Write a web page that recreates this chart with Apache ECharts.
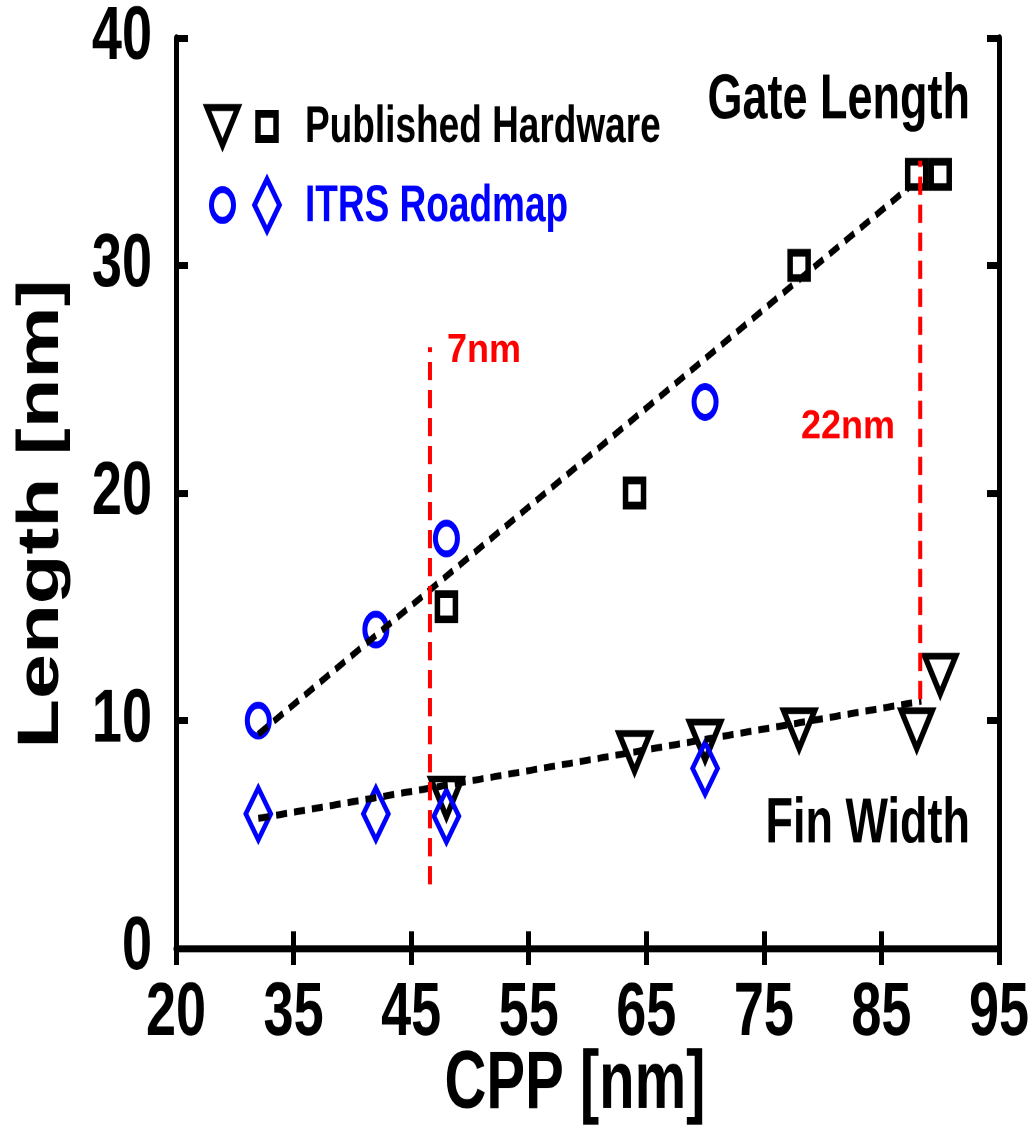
<!DOCTYPE html>
<html>
<head>
<meta charset="utf-8">
<script src="https://cdn.jsdelivr.net/npm/echarts@6/dist/echarts.min.js"></script>
<style>
html,body{margin:0;padding:0;background:#fff;width:1034px;height:1133px;overflow:hidden;}
#c{width:1034px;height:809px;transform:scaleY(1.40049);transform-origin:0 0;}
</style>
</head>
<body>
<div id="c"></div>
<script>
// ---- data ----
var xTickValues = [25, 35, 45, 55, 65, 75, 85, 95];
var xTickLabels = ['20', '35', '45', '55', '65', '75', '85', '95'];
var yTickValues = [0, 10, 20, 30, 40];
var yTickLabels = ['0', '10', '20', '30', '40'];

// Gate length
var gateHwX = [48, 64, 78, 88, 90];
var gateHwY = [15, 20, 30, 34, 34];
var gateItrsX = [32, 42, 48, 70];
var gateItrsY = [10, 14, 18, 24];
var gateFitX = [32, 87.5];
var gateFitY = [9.4, 33.5];

// Fin width
var finHwX = [48, 64, 70, 78, 88, 90];
var finHwY = [6.6, 8.6, 9.1, 9.6, 9.6, 12];
var finItrsX = [32, 42, 48, 70];
var finItrsY = [5.9, 5.9, 5.8, 7.9];
var finFitX = [32, 88.4];
var finFitY = [5.7, 10.85];

// node markers
var node7X = [46.6, 46.6];
var node7Y = [2.8, 26.4];
var node22X = [88.3, 88.3];
var node22Y = [10.95, 34.6];

function pairs(xs, ys) { return xs.map(function (x, i) { return [x, ys[i]]; }); }

var FONT = '"Liberation Sans", Arial, Helvetica, sans-serif';
var BLUE = '#0000ff';
var RED = '#ff0000';

var chart = echarts.init(document.getElementById('c'), null, {renderer: 'canvas', devicePixelRatio: 2});

var axisLineStyle = {show: true, lineStyle: {color: '#000', width: 5}};
var tickStyle = {show: true, inside: true, length: 12, lineStyle: {color: '#000', width: 5}};

var option = {
  animation: false,
  backgroundColor: '#fff',
  grid: {left: 176, right: 35, top: 25, bottom: 132},
  xAxis: [{
    type: 'value', min: 25, max: 95, interval: 10, position: 'bottom',
    axisLine: axisLineStyle, axisTick: tickStyle, splitLine: {show: false},
    axisLabel: {
      show: true, margin: 20, color: '#000', fontSize: 54, fontWeight: 'bold', fontFamily: FONT,
      showMinLabel: true, showMaxLabel: true,
      formatter: function (v) { var i = xTickValues.indexOf(Math.round(v)); return i >= 0 ? xTickLabels[i] : ''; }
    }
  }, {
    type: 'value', min: 25, max: 95, interval: 10, position: 'top',
    axisLine: axisLineStyle, axisTick: tickStyle, splitLine: {show: false}, axisLabel: {show: false}
  }],
  yAxis: [{
    type: 'value', min: 0, max: 40, interval: 10, position: 'left',
    axisLine: axisLineStyle, axisTick: tickStyle, splitLine: {show: false},
    axisLabel: {
      show: true, margin: 24, color: '#000', fontSize: 54, fontWeight: 'bold', fontFamily: FONT,
      formatter: function (v) { var i = yTickValues.indexOf(Math.round(v)); return i >= 0 ? yTickLabels[i] : ''; }
    }
  }, {
    type: 'value', min: 0, max: 40, interval: 10, position: 'right',
    axisLine: axisLineStyle, axisTick: tickStyle, splitLine: {show: false}, axisLabel: {show: false}
  }],
  series: [
    {type: 'scatter', name: 'Gate HW', data: pairs(gateHwX, gateHwY), symbol: 'rect', symbolSize: 18, z: 2, silent: true,
      itemStyle: {color: 'transparent', borderColor: '#000', borderWidth: 5.5, opacity: 1}},
    {type: 'scatter', name: 'Gate ITRS', data: pairs(gateItrsX, gateItrsY), symbol: 'circle', symbolSize: 22, z: 2, silent: true,
      itemStyle: {color: 'transparent', borderColor: BLUE, borderWidth: 5, opacity: 1}},
    {type: 'scatter', name: 'Fin HW', data: pairs(finHwX, finHwY), symbol: 'triangle', symbolRotate: 180, symbolSize: [31, 27], z: 2, silent: true,
      itemStyle: {color: 'transparent', borderColor: '#000', borderWidth: 5, opacity: 1}},
    {type: 'scatter', name: 'Fin ITRS', data: pairs(finItrsX, finItrsY), symbol: 'diamond', symbolSize: [25, 37], z: 2, silent: true,
      itemStyle: {color: 'transparent', borderColor: BLUE, borderWidth: 4.5, opacity: 1}},
    {type: 'line', name: 'Gate fit', data: pairs(gateFitX, gateFitY), showSymbol: false, symbol: 'none', z: 3, silent: true,
      lineStyle: {color: '#000', width: 5, type: [11, 7]}},
    {type: 'line', name: 'Fin fit', data: pairs(finFitX, finFitY), showSymbol: false, symbol: 'none', z: 3, silent: true,
      lineStyle: {color: '#000', width: 5, type: [11, 7]}},
    {type: 'line', name: '7nm', data: pairs(node7X, node7Y), showSymbol: false, symbol: 'none', z: 4, silent: true,
      lineStyle: {color: RED, width: 4, type: [13, 7]}},
    {type: 'line', name: '22nm', data: pairs(node22X, node22Y), showSymbol: false, symbol: 'none', z: 4, silent: true,
      lineStyle: {color: RED, width: 4, type: [13, 7]}}
  ],
  graphic: [
    // axis titles
    {type: 'text', x: 575, y: 775, silent: true,
      style: {text: 'CPP [nm]', font: 'bold 58px ' + FONT, fill: '#000', textAlign: 'center', textVerticalAlign: 'middle'}},
    {type: 'text', x: 42, y: 367, rotation: Math.PI / 2, silent: true,
      style: {text: 'Length [nm]', font: 'bold 58px ' + FONT, fill: '#000', textAlign: 'center', textVerticalAlign: 'middle'}},
    // annotations
    {type: 'text', x: 970, y: 72, silent: true,
      style: {text: 'Gate Length', font: 'bold 45px ' + FONT, fill: '#000', textAlign: 'right', textVerticalAlign: 'middle'}},
    {type: 'text', x: 970, y: 589, silent: true,
      style: {text: 'Fin Width', font: 'bold 45px ' + FONT, fill: '#000', textAlign: 'right', textVerticalAlign: 'middle'}},
    {type: 'text', x: 447, y: 250.6, scaleY: 0.8, silent: true,
      style: {text: '7nm', font: 'bold 36px ' + FONT, fill: RED, textAlign: 'left', textVerticalAlign: 'middle'}},
    {type: 'text', x: 801, y: 305, scaleY: 0.8, silent: true,
      style: {text: '22nm', font: 'bold 36px ' + FONT, fill: RED, textAlign: 'left', textVerticalAlign: 'middle'}},
    // legend
    {type: 'polygon', x: 222.5, y: 90.3, silent: true,
      shape: {points: [[-15.5, -13.5], [15.5, -13.5], [0, 13.5]]}, style: {fill: 'none', stroke: '#000', lineWidth: 5}},
    {type: 'rect', x: 267, y: 90.3, silent: true,
      shape: {x: -9, y: -9, width: 18, height: 18}, style: {fill: 'none', stroke: '#000', lineWidth: 5.5}},
    {type: 'text', x: 305, y: 91.4, silent: true,
      style: {text: 'Published Hardware', font: 'bold 37px ' + FONT, fill: '#000', textAlign: 'left', textVerticalAlign: 'middle'}},
    {type: 'circle', x: 222.5, y: 146.4, silent: true,
      shape: {cx: 0, cy: 0, r: 11}, style: {fill: 'none', stroke: BLUE, lineWidth: 5}},
    {type: 'polygon', x: 267, y: 146.4, silent: true,
      shape: {points: [[0, -18.5], [12.5, 0], [0, 18.5], [-12.5, 0]]}, style: {fill: 'none', stroke: BLUE, lineWidth: 4.5}},
    {type: 'text', x: 305, y: 147.8, silent: true,
      style: {text: 'ITRS Roadmap', font: 'bold 37px ' + FONT, fill: BLUE, textAlign: 'left', textVerticalAlign: 'middle'}}
  ]
};
chart.setOption(option);
</script>
</body>
</html>
